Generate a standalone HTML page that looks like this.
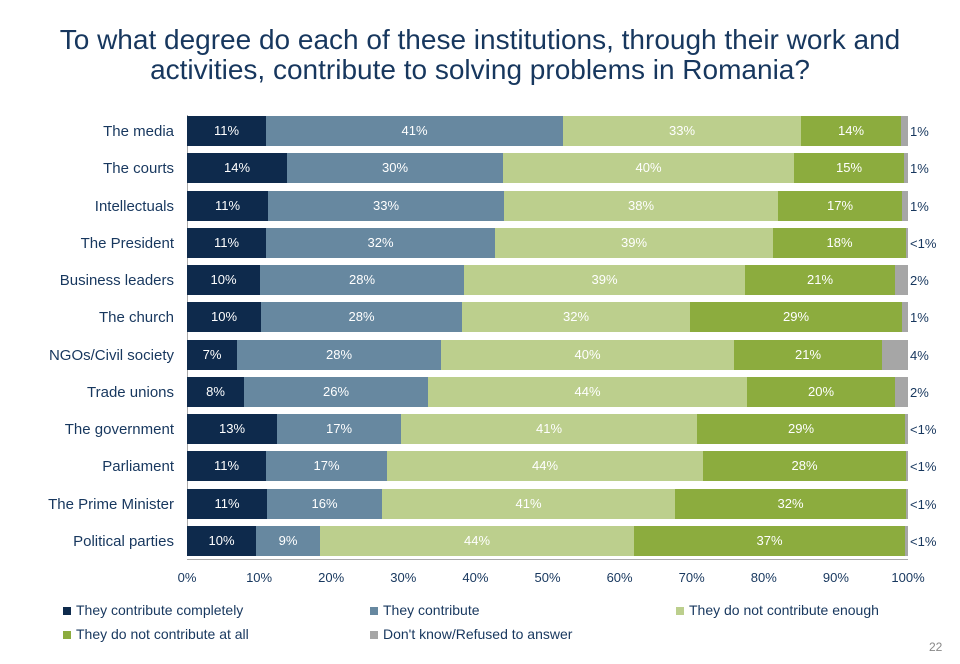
<!DOCTYPE html><html><head><style>
body{margin:0;width:960px;height:664px;background:#fff;font-family:"Liberation Sans",sans-serif;position:relative;overflow:hidden}
.t{position:absolute;left:0;width:960px;text-align:center;color:#17375e;font-size:28px;line-height:30px;top:25px}
.l{position:absolute;right:786px;font-size:15px;color:#17375e;text-align:right;white-space:nowrap}
.s{position:absolute;height:30px;color:#fff;font-size:13px;line-height:30px;text-align:center;border-right:1px solid #fff;box-sizing:border-box}
.r{position:absolute;left:910px;font-size:13px;color:#17375e}
.x{position:absolute;top:570px;font-size:13px;color:#17375e;transform:translateX(-50%)}
.lg{position:absolute;font-size:14px;color:#17375e}
.lg i{display:inline-block;width:8px;height:8px;margin-right:5px}
</style></head><body>
<div class="t">To what degree do each of these institutions, through their work and<br>activities, contribute to solving problems in Romania?</div>
<div style="position:absolute;left:187px;top:115px;width:1px;height:440px;background:#aaa"></div>
<div style="position:absolute;left:187px;top:559px;width:721px;height:1px;background:#aaa"></div>
<div id="c"></div>
<script>
var rows=[["The media",[266,563,801,901,908],["11%","41%","33%","14%",""],"1%"],
["The courts",[287,503,794,904,908],["14%","30%","40%","15%",""],"1%"],
["Intellectuals",[268,504,778,902,908],["11%","33%","38%","17%",""],"1%"],
["The President",[266,495,773,906,908],["11%","32%","39%","18%",""],"<1%"],
["Business leaders",[260,464,745,895,908],["10%","28%","39%","21%",""],"2%"],
["The church",[261,462,690,902,908],["10%","28%","32%","29%",""],"1%"],
["NGOs/Civil society",[237,441,734,882,908],["7%","28%","40%","21%",""],"4%"],
["Trade unions",[244,428,747,895,908],["8%","26%","44%","20%",""],"2%"],
["The government",[277,401,697,905,908],["13%","17%","41%","29%",""],"<1%"],
["Parliament",[266,387,703,906,908],["11%","17%","44%","28%",""],"<1%"],
["The Prime Minister",[267,382,675,906,908],["11%","16%","41%","32%",""],"<1%"],
["Political parties",[256,320,634,905,908],["10%","9%","44%","37%",""],"<1%"]];
var col=["#0e2a4c","#6788a0","#bccf8d","#8cac3e","#a6a6a6"];
var h="";
rows.forEach(function(r,i){var y=Math.round(131+i*37.27);
h+='<div class="l" style="top:'+(y-8)+'px">'+r[0]+'</div>';
var x=187;r[1].forEach(function(e,j){h+='<div class="s" style="left:'+x+'px;top:'+(y-15)+'px;width:'+(e-x+1)+'px;background:'+col[j]+'">'+r[2][j]+'</div>';x=e;});
h+='<div class="r" style="top:'+(y-7)+'px">'+r[3].replace("<","&lt;")+'</div>';});
for(var k=0;k<=10;k++)h+='<div class="x" style="left:'+(187+72.1*k)+'px">'+(k*10)+'%</div>';
document.getElementById("c").innerHTML=h;
</script>
<div class="lg" style="left:63px;top:602px"><i style="background:#0e2a4c"></i>They contribute completely</div>
<div class="lg" style="left:370px;top:602px"><i style="background:#6788a0"></i>They contribute</div>
<div class="lg" style="left:676px;top:602px"><i style="background:#bccf8d"></i>They do not contribute enough</div>
<div class="lg" style="left:63px;top:626px"><i style="background:#8cac3e"></i>They do not contribute at all</div>
<div class="lg" style="left:370px;top:626px"><i style="background:#a6a6a6"></i>Don't know/Refused to answer</div>
<div style="position:absolute;left:929px;top:640px;font-size:12px;color:#888">22</div>
</body></html>
